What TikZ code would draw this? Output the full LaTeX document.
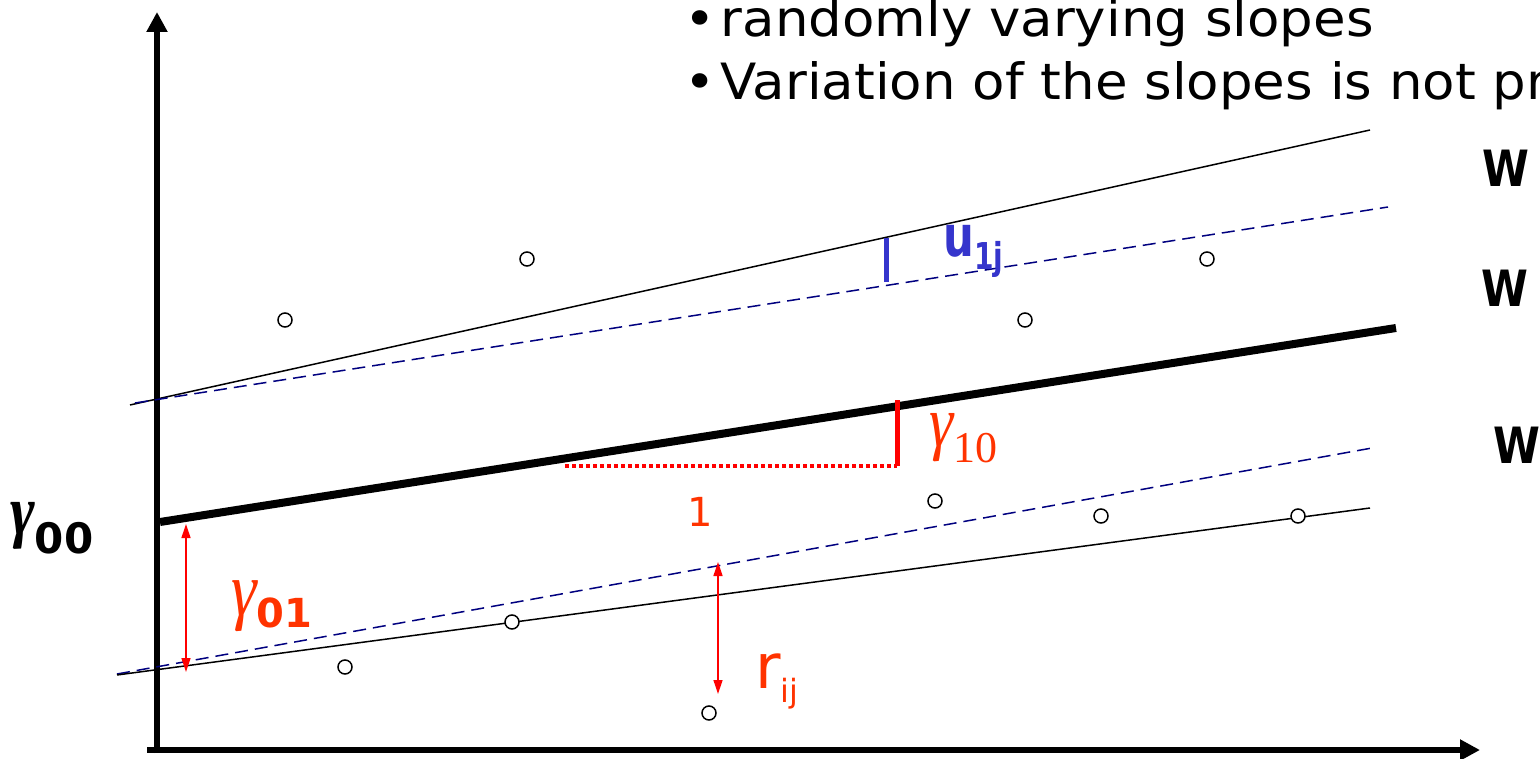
\documentclass[tikz,border=0pt]{standalone}
\usepackage{fontspec}
\setmainfont{Liberation Serif}
\setsansfont{DejaVu Sans}
\usepackage{graphicx}
\usepackage{tikz}
\usetikzlibrary{arrows.meta}
\definecolor{slopered}{HTML}{FF3300}
\definecolor{barred}{HTML}{FF0000}
\definecolor{dashnavy}{HTML}{00007F}
\definecolor{ublue}{HTML}{3535CC}
\newcommand{\fs}[1]{\fontsize{#1}{#1}\selectfont}
\newcommand{\wide}[2]{\scalebox{#1}[1]{#2}}

\begin{document}
\begin{tikzpicture}[x=1pt,y=-1pt,
 ax/.style={line width=6pt,-{Triangle[length=20pt,width=20pt]}},
 solidline/.style={line width=1.5pt},
 dashline/.style={line width=1.5pt,dashnavy,dash pattern=on 13pt off 7pt},
 obs/.style={circle,draw,line width=1.5pt,fill=white,inner sep=0pt,minimum size=14pt},
 gap/.style={barred,line width=1.3pt,{Triangle[length=14pt,width=9pt]}-{Triangle[length=14pt,width=9pt]}},
 lbl/.style={inner sep=0pt,anchor=base west}]
\useasboundingbox (0,0) rectangle (1540,759);

% axes
\coordinate (yb) at (157,753); \coordinate (yt) at (157,12);
\coordinate (xl) at (147,750); \coordinate (xr) at (1480,750);
\draw[ax] (yb)--(yt);
\draw[ax] (xl)--(xr);

% group lines and the average line
\coordinate (ua) at (130,405); \coordinate (ub) at (1370,130);
\coordinate (uda) at (135,403); \coordinate (udb) at (1388,207);
\coordinate (ma) at (160,522); \coordinate (mb) at (1396,328);
\coordinate (la) at (117,675); \coordinate (lb) at (1370,508);
\coordinate (lda) at (117,674); \coordinate (ldb) at (1372,448);
\draw[solidline] (ua)--(ub);
\draw[dashline] (uda)--(udb);
\draw[dashline] (lda)--(ldb);
\draw[solidline] (la)--(lb);
\draw[line width=8pt] (ma)--(mb);

% slope marks
\coordinate (st) at (897,400); \coordinate (sb) at (897,466); \coordinate (sl) at (565,466);
\draw[barred,line width=4pt,dash pattern=on 4pt off 3pt] (sl)--(sb);
\draw[barred,line width=5pt] (st)--(sb);
\coordinate (ut) at (886,238); \coordinate (ubt) at (886,282);
\draw[ublue,line width=5pt] (ut)--(ubt);

% double arrows
\coordinate (g1) at (186,524); \coordinate (g2) at (186,672);
\coordinate (r1) at (718,562); \coordinate (r2) at (718,694);
\draw[gap] (g1)--(g2);
\draw[gap] (r1)--(r2);

% observations
\foreach \n/\x/\y in {p1/285/320,p2/527/259,p3/1025/320,p4/1207/259,p5/935/501,
  p6/1101/516,p7/1298/516,p8/512/622,p9/345/667,p10/709/713}
  {\node[obs] (\n) at (\x,\y) {};}

% labels
\node[lbl,font=\sffamily\fs{50}] (b1) at (684,37) {\wide{1.06}{\textbullet\hspace{5pt}randomly varying slopes}};
\node[lbl,font=\sffamily\fs{50}] (b2) at (684,100) {\wide{1.06}{\textbullet\hspace{5pt}Variation of the slopes is not pr}};
\node[lbl,font=\sffamily\bfseries\fs{50}] (w1) at (1482,187) {\wide{0.85}{W}};
\node[lbl,font=\sffamily\bfseries\fs{50}] (w2) at (1481,307) {\wide{0.85}{W}};
\node[lbl,font=\sffamily\bfseries\fs{50}] (w3) at (1493,463) {\wide{0.85}{W}};
\node[lbl] (g00) at (10,553) {\raisebox{19pt}{\fs{70}\bfseries\itshape\wide{0.85}{γ}}{\sffamily\bfseries\fs{42}00}};
\node[lbl,slopered] (g01) at (231,627) {\raisebox{12pt}{\fs{76}\itshape\wide{0.85}{γ}}{\sffamily\bfseries\fs{40}01}};
\node[lbl,slopered] (g10) at (929,462) {\raisebox{16pt}{\fs{72}\itshape\wide{0.85}{γ}}{\fs{44}10}};
\node[slopered,font=\sffamily\fs{40},inner sep=0pt] (one) at (700,512) {1};
\node[lbl,slopered,font=\sffamily] (rij) at (755,688) {{\fs{62}r}\raisebox{-14pt}{\fs{32}ij}};
\node[lbl,ublue,font=\sffamily\bfseries] (u1j) at (943,257) {\wide{0.76}{{\fs{57}u}\raisebox{-13pt}{\fs{37}1j}}};
\end{tikzpicture}
\end{document}
